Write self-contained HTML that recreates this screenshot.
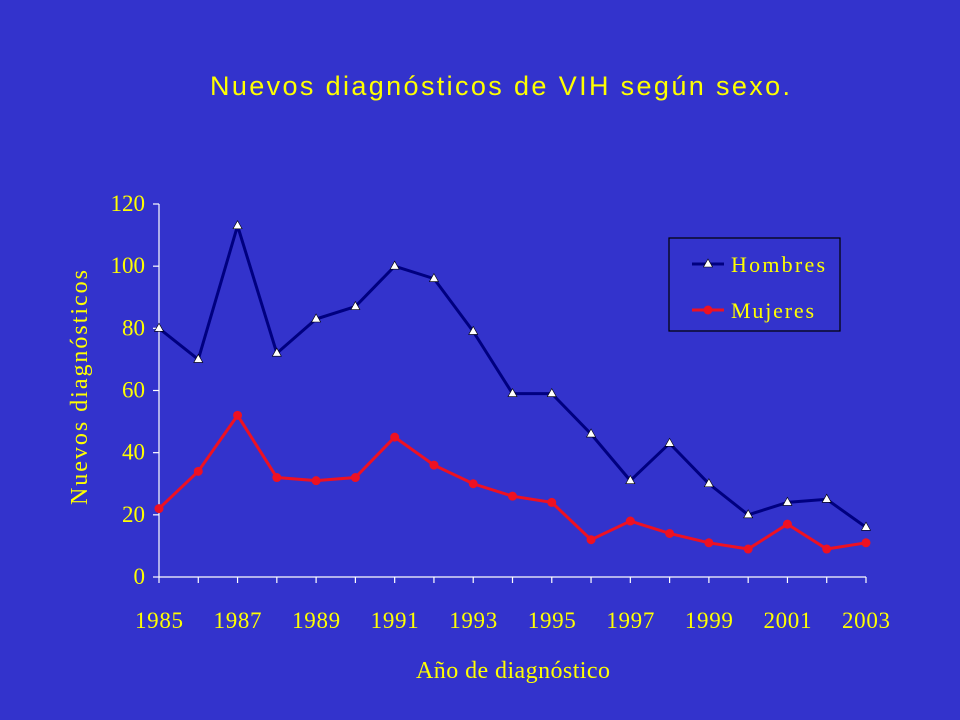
<!DOCTYPE html>
<html><head><meta charset="utf-8"><style>
body{margin:0;background:#3333cc;}
svg{display:block}
</style></head><body>
<svg width="960" height="720" xmlns="http://www.w3.org/2000/svg">
<rect width="960" height="720" fill="#3333cc"/>
<text x="210" y="95" textLength="580" lengthAdjust="spacing" font-family="Liberation Sans, sans-serif" font-size="27" fill="#ffff00">Nuevos diagnósticos de VIH según sexo.</text>
<g id="axes"></g>
<g id="marks"></g>
<text x="416" y="678" textLength="194" lengthAdjust="spacing" font-family="Liberation Serif, serif" font-size="24" fill="#ffff00">Año de diagnóstico</text>
<text transform="translate(87,505) rotate(-90)" textLength="235" lengthAdjust="spacing" font-family="Liberation Serif, serif" font-size="24" fill="#ffff00">Nuevos diagnósticos</text>
<g>
<rect x="669" y="238" width="171" height="93" fill="none" stroke="#000" stroke-width="1.2"/>
<line x1="692" y1="264" x2="724" y2="264" stroke="#000080" stroke-width="3"/>
<polygon points="708,259 712.5,267 703.5,267" fill="#fff" stroke="#000" stroke-width="0.6"/>
<text x="731" y="272" textLength="94" lengthAdjust="spacing" font-family="Liberation Serif, serif" font-size="22" fill="#ffff00">Hombres</text>
<line x1="692" y1="310" x2="724" y2="310" stroke="#ee1122" stroke-width="3"/>
<circle cx="708" cy="310" r="4.5" fill="#ee1122"/>
<text x="731" y="318" textLength="83" lengthAdjust="spacing" font-family="Liberation Serif, serif" font-size="22" fill="#ffff00">Mujeres</text>
</g>
</svg>
<script>
const years=[1985,1986,1987,1988,1989,1990,1991,1992,1993,1994,1995,1996,1997,1998,1999,2000,2001,2002,2003];
const hombres=[80,70,113,72,83,87,100,96,79,59,59,46,31,43,30,20,24,25,16];
const mujeres=[22,34,52,32,31,32,45,36,30,26,24,12,18,14,11,9,17,9,11];
const yTicks=[0,20,40,60,80,100,120];
const xLabels=[1985,1987,1989,1991,1993,1995,1997,1999,2001,2003];
const NS="http://www.w3.org/2000/svg";
const x0=159,x1=866,y0=577,y1=204;
const xs=v=>x0+(v-1985)*(x1-x0)/18;
const ys=v=>y0-v*(y0-y1)/120;
function mk(t,a,p){const e=document.createElementNS(NS,t);for(const k in a)e.setAttribute(k,a[k]);p.appendChild(e);return e;}
const ax=document.getElementById('axes'),mg=document.getElementById('marks');
const yl=mk('line',{x1:x0,y1:y0,x2:x0,y2:y1,stroke:'#fff','stroke-width':1.2},ax);


const xl=mk('line',{x1:x0,y1:y0,x2:x1,y2:y0,stroke:'#fff','stroke-width':1.2},ax);


yTicks.forEach(v=>{const y=ys(v);
mk('line',{x1:x0-6,y1:y,x2:x0,y2:y,stroke:'#fff','stroke-width':1.2},ax);
const t=mk('text',{x:x0-14,y:y+7,'text-anchor':'end','font-family':'Liberation Serif, serif','font-size':23,fill:'#ffff00'},ax);


t.textContent=v;});
years.forEach(v=>mk('line',{x1:xs(v),y1:y0,x2:xs(v),y2:y0+6,stroke:'#fff','stroke-width':1.2},ax));
xLabels.forEach(v=>{const t=mk('text',{x:xs(v)-24,y:628,textLength:48,lengthAdjust:'spacing','font-family':'Liberation Serif, serif','font-size':23,fill:'#ffff00'},ax);


t.textContent=v;});
const ph=mk('polyline',{points:years.map((y,i)=>xs(y)+','+ys(hombres[i])).join(' '),fill:'none',stroke:'#000080','stroke-width':3},mg);


const pm=mk('polyline',{points:years.map((y,i)=>xs(y)+','+ys(mujeres[i])).join(' '),fill:'none',stroke:'#ee1122','stroke-width':3},mg);


years.forEach((yr,i)=>{const x=xs(yr),y=ys(hombres[i]);
const p=mk('polygon',{points:`${x},${y-5} ${x+4.5},${y+3} ${x-4.5},${y+3}`,fill:'#fff',stroke:'#000','stroke-width':0.6},mg);


const c=mk('circle',{cx:x,cy:ys(mujeres[i]),r:4.5,fill:'#ee1122'},mg);

});
</script>
</body></html>
